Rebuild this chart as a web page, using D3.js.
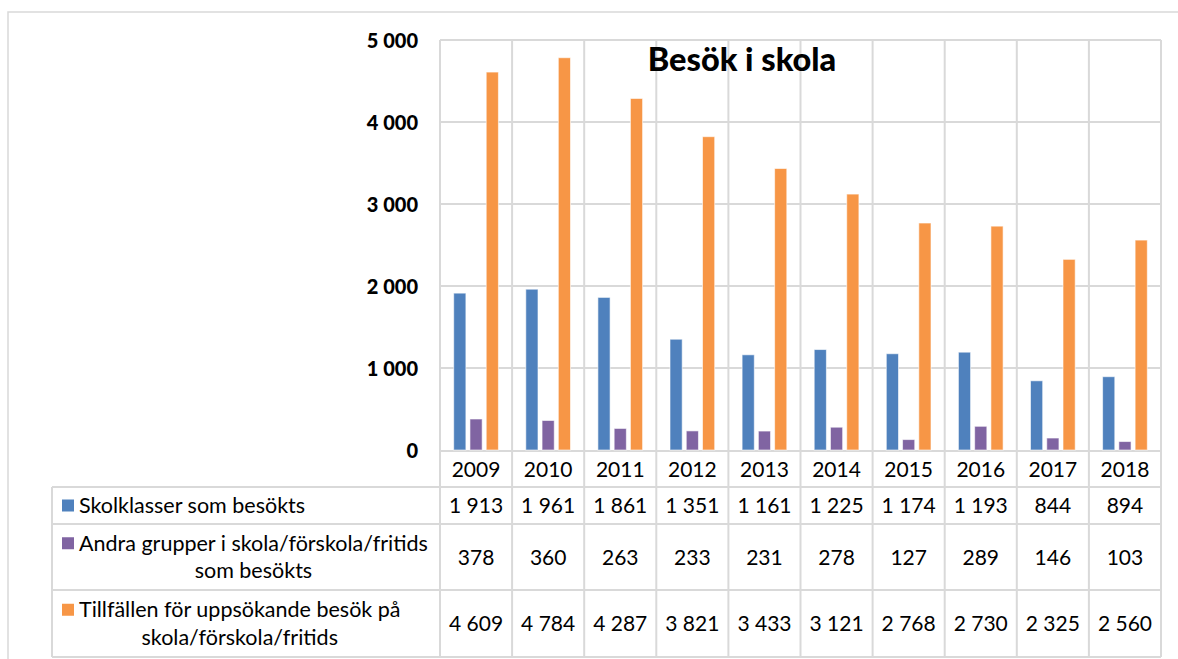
<!DOCTYPE html>
<html>
<head>
<meta charset="utf-8">
<script src="https://cdn.jsdelivr.net/npm/d3@7"></script>
<style>
  html, body { margin: 0; padding: 0; background: #fff; }
  svg { display: block; }
  text { font-family: Lato, "Open Sans", sans-serif; fill: #000; }
</style>
</head>
<body>
<svg id="chart" width="1178" height="659"></svg>
<script>
const years = ["2009","2010","2011","2012","2013","2014","2015","2016","2017","2018"];
const seriesNames = [
  ["Skolklasser som besökts"],
  ["Andra grupper i skola/förskola/fritids", "som besökts"],
  ["Tillfällen för uppsökande besök på", "skola/förskola/fritids"]
];
const skolklasser = [1913, 1961, 1861, 1351, 1161, 1225, 1174, 1193, 844, 894];
const andraGrupper = [378, 360, 263, 233, 231, 278, 127, 289, 146, 103];
const tillfallen = [4609, 4784, 4287, 3821, 3433, 3121, 2768, 2730, 2325, 2560];
const yTicks = [0, 1000, 2000, 3000, 4000, 5000];
const colors = ["#4F81BD", "#8064A2", "#F79646"];
const title = "Besök i skola";

const series = [skolklasser, andraGrupper, tillfallen];
const fmt = v => d3.format(",")(v).replace(/,/g, " ");

const svg = d3.select("#chart");
const grid = "#D9D9D9";

// layout
const plotL = 440, plotR = 1161, plotT = 40, plotB = 450;
const tableL = 52;
const rowLines = [451, 487, 524, 590, 657];

const x0 = d3.scaleBand().domain(years).range([plotL, plotR]).paddingInner(0).paddingOuter(0);
const x1 = d3.scaleBand().domain([0,1,2]).range([x0.bandwidth()*0.19, x0.bandwidth()*0.81]).paddingInner(0.25).paddingOuter(0);
const y = d3.scaleLinear().domain([0, 5000]).range([plotB, plotT]);

// outer border
svg.append("rect").attr("x", 8).attr("y", 12).attr("width", 1200).attr("height", 700)
  .attr("fill", "none").attr("stroke", "#D9D9D9").attr("stroke-width", 1.5);

// horizontal grid lines
svg.append("g").selectAll("line").data(yTicks.filter(t => t > 0)).join("line")
  .attr("x1", plotL).attr("x2", plotR)
  .attr("y1", d => y(d)).attr("y2", d => y(d))
  .attr("stroke", grid).attr("stroke-width", 2);

// vertical grid lines (through plot and table)
const vx = years.map(yr => x0(yr)).concat([plotR]);
svg.append("g").selectAll("line").data(vx).join("line")
  .attr("x1", d => d).attr("x2", d => d)
  .attr("y1", plotT).attr("y2", rowLines[4])
  .attr("stroke", grid).attr("stroke-width", 2);

// table lines
svg.append("line").attr("x1", plotL).attr("x2", plotR).attr("y1", rowLines[0]).attr("y2", rowLines[0])
  .attr("stroke", grid).attr("stroke-width", 2);
svg.append("g").selectAll("line").data(rowLines.slice(1)).join("line")
  .attr("x1", tableL).attr("x2", plotR).attr("y1", d => d).attr("y2", d => d)
  .attr("stroke", grid).attr("stroke-width", 2);
svg.append("line").attr("x1", tableL).attr("x2", tableL).attr("y1", rowLines[1]).attr("y2", rowLines[4])
  .attr("stroke", grid).attr("stroke-width", 2);

// title
svg.append("text").attr("x", 742).attr("y", 71).attr("text-anchor", "middle")
  .style("font-weight", "900").style("font-size", "32.5px").text(title);

// bars
const gBars = svg.append("g");
series.forEach((vals, si) => {
  gBars.append("g").selectAll("rect").data(vals).join("rect")
    .attr("x", (d, i) => x0(years[i]) + x1(si))
    .attr("width", x1.bandwidth())
    .attr("y", d => y(d))
    .attr("height", d => y(0) - y(d))
    .attr("fill", colors[si])
    .attr("stroke", "rgba(255,255,255,0.6)").attr("stroke-width", 1);
});

// y axis labels
const yAxis = d3.axisLeft(y).tickValues(yTicks).tickFormat(fmt).tickSize(0).tickPadding(0);
const gy = svg.append("g").attr("transform", `translate(418,0)`).call(yAxis);
gy.select(".domain").remove();
gy.selectAll("text").style("font-family", "Lato, sans-serif").style("font-size", "20px")
  .style("font-weight", "900").attr("fill", "#000").attr("dy", "0.36em");

// year labels
const xAxis = d3.axisBottom(x0).tickSize(0).tickPadding(0);
const gx = svg.append("g").attr("transform", `translate(0,${(rowLines[0]+rowLines[1])/2})`).call(xAxis);
gx.select(".domain").remove();
gx.selectAll("text").style("font-family", "Lato, sans-serif").style("font-size", "21px")
  .attr("fill", "#000").attr("y", 0).attr("dy", "0.36em");

// table rows
series.forEach((vals, si) => {
  const cy = (rowLines[si+1] + rowLines[si+2]) / 2;
  svg.append("g").selectAll("text").data(vals).join("text")
    .attr("x", (d, i) => x0(years[i]) + x0.bandwidth()/2)
    .attr("y", cy).attr("dy", "0.36em").attr("text-anchor", "middle")
    .style("font-size", "21px").text(fmt);

  const lines = seriesNames[si];
  const lh = 27.5;
  const top = cy - (lines.length - 1) * lh / 2;
  svg.append("rect").attr("x", 62).attr("width", 12).attr("height", 12)
    .attr("y", top - 6).attr("fill", colors[si]);
  const first = svg.append("text").attr("x", 79).attr("y", top).attr("dy", "0.36em")
    .style("font-size", "21.5px").text(lines[0]);
  if (lines.length > 1) {
    const w = first.node().getComputedTextLength();
    svg.append("text").attr("x", 79 + w/2).attr("y", top + lh).attr("dy", "0.36em")
      .attr("text-anchor", "middle").style("font-size", "21.5px").text(lines[1]);
  }
});
</script>
</body>
</html>
